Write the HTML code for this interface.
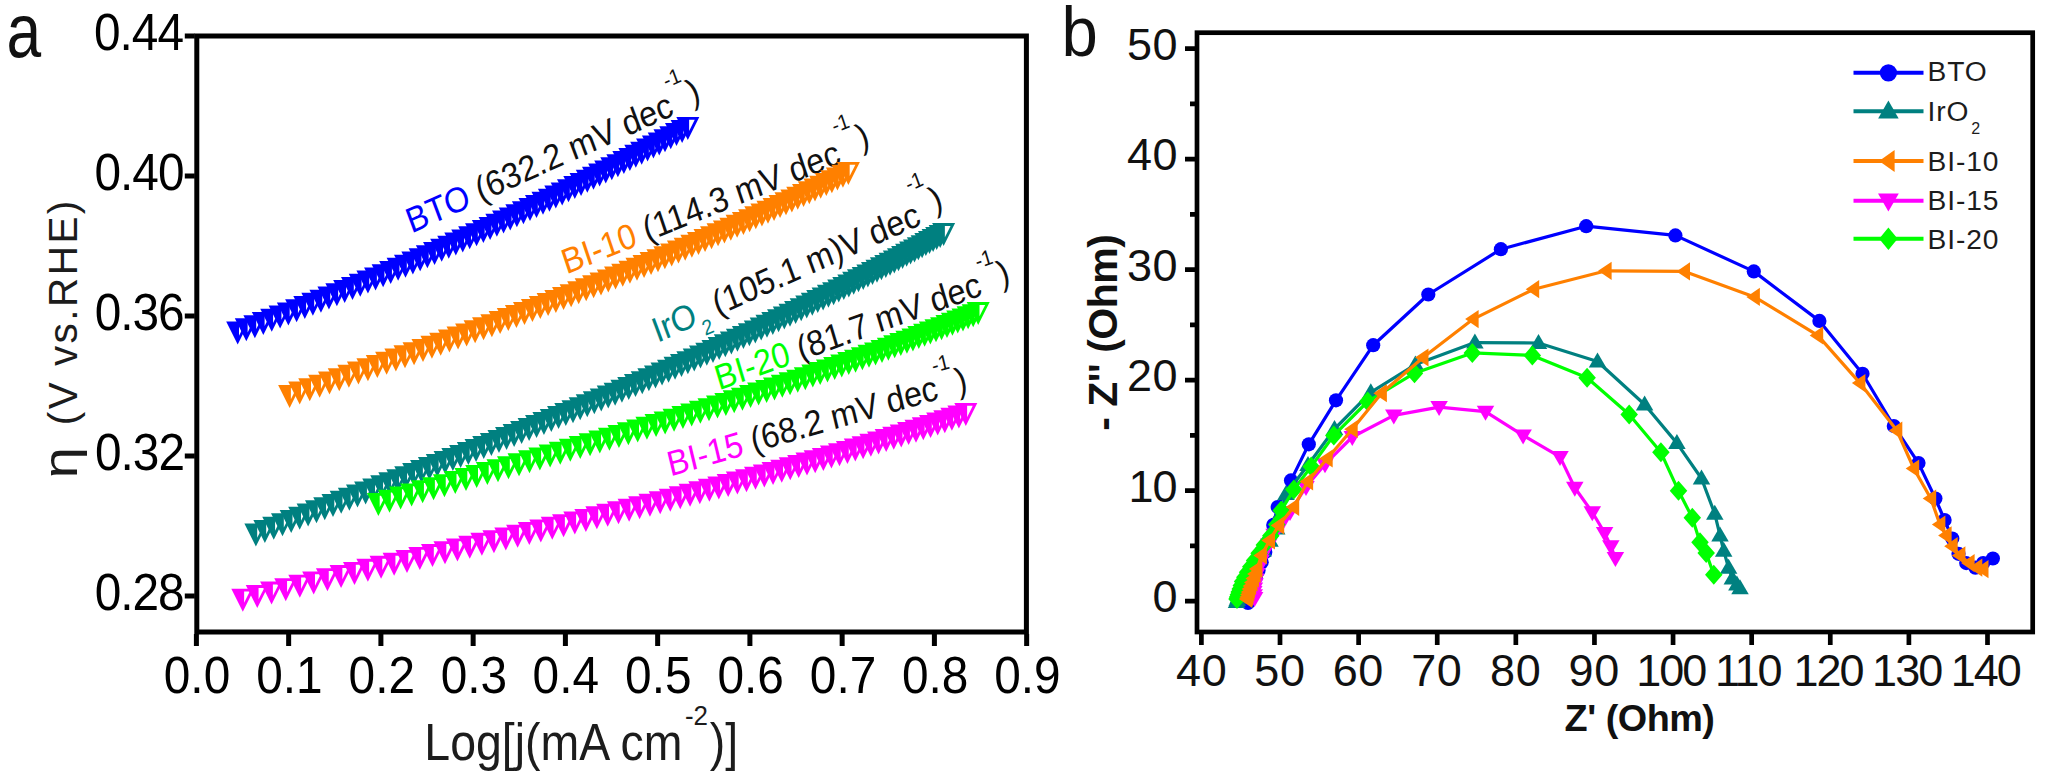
<!DOCTYPE html>
<html><head><meta charset="utf-8"><title>Figure</title>
<style>html,body{margin:0;padding:0;background:#fff}svg{display:block}</style></head>
<body><svg width="2049" height="780" viewBox="0 0 2049 780">
<rect width="2049" height="780" fill="#fff"/>
<g id="left">
<rect x="196.8" y="36" width="829.6" height="596" fill="#fff" stroke="#000" stroke-width="5"/>
<path d="M196.4 634v12M288.65 634v12M380.9 634v12M473.15 634v12M565.4 634v12M657.65 634v12M749.9 634v12M842.15 634v12M934.4 634v12M1026.65 634v12M194.8 596h-10M194.8 456h-10M194.8 316h-10M194.8 176h-10M194.8 36h-10" stroke="#000" stroke-width="5" fill="none"/>
<g font-family="Liberation Sans, Arial, sans-serif">
<text transform="translate(163.79,692.8) scale(0.91,1)" font-size="52.5" fill="#000">0.0</text>
<text transform="translate(256.28,692.8) scale(0.91,1)" font-size="52.5" fill="#000">0.1</text>
<text transform="translate(348.56,692.8) scale(0.91,1)" font-size="52.5" fill="#000">0.2</text>
<text transform="translate(440.66,692.8) scale(0.91,1)" font-size="52.5" fill="#000">0.3</text>
<text transform="translate(532.56,692.8) scale(0.91,1)" font-size="52.5" fill="#000">0.4</text>
<text transform="translate(625.11,692.8) scale(0.91,1)" font-size="52.5" fill="#000">0.5</text>
<text transform="translate(717.41,692.8) scale(0.91,1)" font-size="52.5" fill="#000">0.6</text>
<text transform="translate(809.81,692.8) scale(0.91,1)" font-size="52.5" fill="#000">0.7</text>
<text transform="translate(901.9,692.8) scale(0.91,1)" font-size="52.5" fill="#000">0.8</text>
<text transform="translate(994.24,692.8) scale(0.91,1)" font-size="52.5" fill="#000">0.9</text>
<text transform="translate(94.7,610.3) scale(0.91,1)" font-size="52.5" letter-spacing="-1.1" fill="#000">0.28</text>
<text transform="translate(95.02,470.3) scale(0.91,1)" font-size="52.5" letter-spacing="-1.1" fill="#000">0.32</text>
<text transform="translate(94.72,330.3) scale(0.91,1)" font-size="52.5" letter-spacing="-1.1" fill="#000">0.36</text>
<text transform="translate(94.49,190.3) scale(0.91,1)" font-size="52.5" letter-spacing="-1.1" fill="#000">0.40</text>
<text transform="translate(94.02,50.3) scale(0.91,1)" font-size="52.5" letter-spacing="-1.1" fill="#000">0.44</text>
</g>
</g>
<text transform="translate(411.5,233.5) scale(0.91,1) rotate(-22.3)" font-size="35.5" fill="#111" font-family="Liberation Sans, Arial, sans-serif"><tspan fill="#0000ff">BTO</tspan><tspan> (632.2 mV dec</tspan><tspan font-size="21.66" dx="1" dy="-28">-1</tspan><tspan dx="1" dy="26">)</tspan></text>
<text transform="translate(566.5,274.5) scale(0.91,1) rotate(-20.2)" font-size="35.5" fill="#111" font-family="Liberation Sans, Arial, sans-serif"><tspan fill="#ff8000">BI-10</tspan><tspan> (114.3 mV dec</tspan><tspan font-size="21.66" dx="2" dy="-30.6">-1</tspan><tspan dx="3" dy="25.1">)</tspan></text>
<text transform="translate(657.5,343) scale(0.91,1) rotate(-22.2)" font-size="35.5" fill="#111" font-family="Liberation Sans, Arial, sans-serif"><tspan fill="#008080">IrO</tspan><tspan fill="#008080" font-size="21.3" dy="13.49" dx="2">2</tspan><tspan dy="-13.49" dx="8.5">(105.1 m)V dec</tspan><tspan font-size="21.66" dx="-2" dy="-35.6">-1</tspan><tspan dx="0" dy="29.6">)</tspan></text>
<text transform="translate(719,390.5) scale(0.91,1) rotate(-18.2)" font-size="35.5" fill="#111" font-family="Liberation Sans, Arial, sans-serif"><tspan fill="#00ff00">BI-20</tspan><tspan> (81.7 mV dec</tspan><tspan font-size="21.66" dx="2" dy="-26.62">-1</tspan><tspan dx="0.5" dy="24.62">)</tspan></text>
<text transform="translate(670.5,476.5) scale(0.91,1) rotate(-14.7)" font-size="35.5" fill="#111" font-family="Liberation Sans, Arial, sans-serif"><tspan fill="#ff00ff">BI-15</tspan><tspan> (68.2 mV dec</tspan><tspan font-size="21.66" dx="0" dy="-26.62">-1</tspan><tspan dx="2" dy="26.62">)</tspan></text>
<g id="bto"><path d="M226.2 321.5h23l-11.5 23z" fill="#0000ff"/><path d="M239 324.3H244.67L239 335.64z" fill="#fff"/><path d="M234.81 318.32h23l-11.5 23z" fill="#0000ff"/><path d="M247.61 321.12H253.28L247.61 332.46z" fill="#fff"/><path d="M243.36 315.14h23l-11.5 23z" fill="#0000ff"/><path d="M256.16 317.94H261.82L256.16 329.28z" fill="#fff"/><path d="M251.84 311.96h23l-11.5 23z" fill="#0000ff"/><path d="M264.64 314.76H270.31L264.64 326.1z" fill="#fff"/><path d="M260.25 308.78h23l-11.5 23z" fill="#0000ff"/><path d="M273.05 311.58H278.72L273.05 322.92z" fill="#fff"/><path d="M268.61 305.6h23l-11.5 23z" fill="#0000ff"/><path d="M281.41 308.4H287.08L281.41 319.74z" fill="#fff"/><path d="M276.9 302.41h23l-11.5 23z" fill="#0000ff"/><path d="M289.7 305.21H295.37L289.7 316.55z" fill="#fff"/><path d="M285.13 299.23h23l-11.5 23z" fill="#0000ff"/><path d="M297.93 302.03H303.6L297.93 313.37z" fill="#fff"/><path d="M293.29 296.04h23l-11.5 23z" fill="#0000ff"/><path d="M306.09 298.84H311.76L306.09 310.18z" fill="#fff"/><path d="M301.4 292.85h23l-11.5 23z" fill="#0000ff"/><path d="M314.2 295.65H319.87L314.2 306.99z" fill="#fff"/><path d="M309.44 289.67h23l-11.5 23z" fill="#0000ff"/><path d="M322.24 292.47H327.91L322.24 303.81z" fill="#fff"/><path d="M317.42 286.48h23l-11.5 23z" fill="#0000ff"/><path d="M330.22 289.28H335.89L330.22 300.62z" fill="#fff"/><path d="M325.35 283.29h23l-11.5 23z" fill="#0000ff"/><path d="M338.15 286.09H343.82L338.15 297.43z" fill="#fff"/><path d="M333.21 280.11h23l-11.5 23z" fill="#0000ff"/><path d="M346.01 282.91H351.68L346.01 294.25z" fill="#fff"/><path d="M341.01 276.92h23l-11.5 23z" fill="#0000ff"/><path d="M353.81 279.72H359.48L353.81 291.06z" fill="#fff"/><path d="M348.76 273.74h23l-11.5 23z" fill="#0000ff"/><path d="M361.56 276.54H367.23L361.56 287.88z" fill="#fff"/><path d="M356.45 270.56h23l-11.5 23z" fill="#0000ff"/><path d="M369.25 273.36H374.92L369.25 284.7z" fill="#fff"/><path d="M364.08 267.38h23l-11.5 23z" fill="#0000ff"/><path d="M376.88 270.18H382.55L376.88 281.52z" fill="#fff"/><path d="M371.65 264.2h23l-11.5 23z" fill="#0000ff"/><path d="M384.45 267H390.12L384.45 278.34z" fill="#fff"/><path d="M379.16 261.02h23l-11.5 23z" fill="#0000ff"/><path d="M391.96 263.82H397.63L391.96 275.16z" fill="#fff"/><path d="M386.62 257.85h23l-11.5 23z" fill="#0000ff"/><path d="M399.42 260.65H405.09L399.42 271.99z" fill="#fff"/><path d="M394.02 254.68h23l-11.5 23z" fill="#0000ff"/><path d="M406.82 257.48H412.49L406.82 268.82z" fill="#fff"/><path d="M401.37 251.51h23l-11.5 23z" fill="#0000ff"/><path d="M414.17 254.31H419.84L414.17 265.65z" fill="#fff"/><path d="M408.66 248.34h23l-11.5 23z" fill="#0000ff"/><path d="M421.46 251.14H427.13L421.46 262.48z" fill="#fff"/><path d="M415.9 245.18h23l-11.5 23z" fill="#0000ff"/><path d="M428.7 247.98H434.37L428.7 259.32z" fill="#fff"/><path d="M423.08 242.02h23l-11.5 23z" fill="#0000ff"/><path d="M435.88 244.82H441.55L435.88 256.16z" fill="#fff"/><path d="M430.2 238.86h23l-11.5 23z" fill="#0000ff"/><path d="M443 241.66H448.67L443 253z" fill="#fff"/><path d="M437.28 235.71h23l-11.5 23z" fill="#0000ff"/><path d="M450.08 238.51H455.75L450.08 249.85z" fill="#fff"/><path d="M444.3 232.56h23l-11.5 23z" fill="#0000ff"/><path d="M457.1 235.36H462.77L457.1 246.7z" fill="#fff"/><path d="M451.27 229.42h23l-11.5 23z" fill="#0000ff"/><path d="M464.07 232.22H469.74L464.07 243.56z" fill="#fff"/><path d="M458.18 226.28h23l-11.5 23z" fill="#0000ff"/><path d="M470.98 229.08H476.65L470.98 240.42z" fill="#fff"/><path d="M465.04 223.14h23l-11.5 23z" fill="#0000ff"/><path d="M477.84 225.94H483.51L477.84 237.28z" fill="#fff"/><path d="M471.86 220.01h23l-11.5 23z" fill="#0000ff"/><path d="M484.66 222.81H490.33L484.66 234.15z" fill="#fff"/><path d="M478.64 216.88h23l-11.5 23z" fill="#0000ff"/><path d="M491.44 219.68H497.11L491.44 231.02z" fill="#fff"/><path d="M485.38 213.74h23l-11.5 23z" fill="#0000ff"/><path d="M498.18 216.54H503.85L498.18 227.88z" fill="#fff"/><path d="M492.08 210.61h23l-11.5 23z" fill="#0000ff"/><path d="M504.88 213.41H510.55L504.88 224.75z" fill="#fff"/><path d="M498.74 207.47h23l-11.5 23z" fill="#0000ff"/><path d="M511.54 210.27H517.21L511.54 221.61z" fill="#fff"/><path d="M505.36 204.33h23l-11.5 23z" fill="#0000ff"/><path d="M518.16 207.13H523.83L518.16 218.47z" fill="#fff"/><path d="M511.95 201.2h23l-11.5 23z" fill="#0000ff"/><path d="M524.75 204H530.42L524.75 215.34z" fill="#fff"/><path d="M518.5 198.06h23l-11.5 23z" fill="#0000ff"/><path d="M531.3 200.86H536.97L531.3 212.2z" fill="#fff"/><path d="M525.01 194.92h23l-11.5 23z" fill="#0000ff"/><path d="M537.81 197.72H543.48L537.81 209.06z" fill="#fff"/><path d="M531.48 191.79h23l-11.5 23z" fill="#0000ff"/><path d="M544.28 194.59H549.95L544.28 205.93z" fill="#fff"/><path d="M537.92 188.65h23l-11.5 23z" fill="#0000ff"/><path d="M550.72 191.45H556.39L550.72 202.79z" fill="#fff"/><path d="M544.32 185.51h23l-11.5 23z" fill="#0000ff"/><path d="M557.12 188.31H562.79L557.12 199.65z" fill="#fff"/><path d="M550.69 182.38h23l-11.5 23z" fill="#0000ff"/><path d="M563.49 185.18H569.16L563.49 196.52z" fill="#fff"/><path d="M557.02 179.24h23l-11.5 23z" fill="#0000ff"/><path d="M569.82 182.04H575.49L569.82 193.38z" fill="#fff"/><path d="M563.31 176.11h23l-11.5 23z" fill="#0000ff"/><path d="M576.11 178.91H581.78L576.11 190.25z" fill="#fff"/><path d="M569.57 172.98h23l-11.5 23z" fill="#0000ff"/><path d="M582.37 175.78H588.04L582.37 187.12z" fill="#fff"/><path d="M575.79 169.85h23l-11.5 23z" fill="#0000ff"/><path d="M588.59 172.65H594.26L588.59 183.99z" fill="#fff"/><path d="M581.97 166.72h23l-11.5 23z" fill="#0000ff"/><path d="M594.77 169.52H600.44L594.77 180.86z" fill="#fff"/><path d="M588.13 163.59h23l-11.5 23z" fill="#0000ff"/><path d="M600.93 166.39H606.6L600.93 177.73z" fill="#fff"/><path d="M594.24 160.46h23l-11.5 23z" fill="#0000ff"/><path d="M607.04 163.26H612.71L607.04 174.6z" fill="#fff"/><path d="M600.32 157.33h23l-11.5 23z" fill="#0000ff"/><path d="M613.12 160.13H618.79L613.12 171.47z" fill="#fff"/><path d="M606.37 154.21h23l-11.5 23z" fill="#0000ff"/><path d="M619.17 157.01H624.84L619.17 168.35z" fill="#fff"/><path d="M612.38 151.09h23l-11.5 23z" fill="#0000ff"/><path d="M625.18 153.89H630.85L625.18 165.23z" fill="#fff"/><path d="M618.36 147.97h23l-11.5 23z" fill="#0000ff"/><path d="M631.16 150.77H636.83L631.16 162.11z" fill="#fff"/><path d="M624.3 144.85h23l-11.5 23z" fill="#0000ff"/><path d="M637.1 147.65H642.77L637.1 158.99z" fill="#fff"/><path d="M630.21 141.73h23l-11.5 23z" fill="#0000ff"/><path d="M643.01 144.53H648.68L643.01 155.87z" fill="#fff"/><path d="M636.09 138.62h23l-11.5 23z" fill="#0000ff"/><path d="M648.89 141.42H654.56L648.89 152.76z" fill="#fff"/><path d="M641.93 135.51h23l-11.5 23z" fill="#0000ff"/><path d="M654.73 138.31H660.4L654.73 149.65z" fill="#fff"/><path d="M647.74 132.4h23l-11.5 23z" fill="#0000ff"/><path d="M660.54 135.2H666.21L660.54 146.54z" fill="#fff"/><path d="M653.52 129.29h23l-11.5 23z" fill="#0000ff"/><path d="M666.32 132.09H671.99L666.32 143.43z" fill="#fff"/><path d="M659.26 126.19h23l-11.5 23z" fill="#0000ff"/><path d="M672.06 128.99H677.73L672.06 140.33z" fill="#fff"/><path d="M664.97 123.09h23l-11.5 23z" fill="#0000ff"/><path d="M677.77 125.89H683.44L677.77 137.23z" fill="#fff"/><path d="M670.65 119.99h23l-11.5 23z" fill="#0000ff"/><path d="M683.45 122.79H689.12L683.45 134.13z" fill="#fff"/><path d="M676.3 116.9h23l-11.5 23z" fill="#0000ff"/><path d="M689.1 119.7H694.77L689.1 131.04z" fill="#fff"/></g>
<g id="bi10"><path d="M278.1 385h23l-11.5 23z" fill="#ff8000"/><path d="M290.9 387.8H296.57L290.9 399.14z" fill="#fff"/><path d="M288.21 381.58h23l-11.5 23z" fill="#ff8000"/><path d="M301.01 384.38H306.68L301.01 395.72z" fill="#fff"/><path d="M298.23 378.19h23l-11.5 23z" fill="#ff8000"/><path d="M311.03 380.99H316.7L311.03 392.33z" fill="#fff"/><path d="M308.15 374.82h23l-11.5 23z" fill="#ff8000"/><path d="M320.95 377.62H326.62L320.95 388.96z" fill="#fff"/><path d="M317.99 371.47h23l-11.5 23z" fill="#ff8000"/><path d="M330.79 374.27H336.46L330.79 385.61z" fill="#fff"/><path d="M327.73 368.14h23l-11.5 23z" fill="#ff8000"/><path d="M340.53 370.94H346.2L340.53 382.28z" fill="#fff"/><path d="M337.39 364.83h23l-11.5 23z" fill="#ff8000"/><path d="M350.19 367.63H355.86L350.19 378.97z" fill="#fff"/><path d="M346.96 361.54h23l-11.5 23z" fill="#ff8000"/><path d="M359.76 364.34H365.43L359.76 375.68z" fill="#fff"/><path d="M356.44 358.27h23l-11.5 23z" fill="#ff8000"/><path d="M369.24 361.07H374.91L369.24 372.41z" fill="#fff"/><path d="M365.83 355.02h23l-11.5 23z" fill="#ff8000"/><path d="M378.63 357.82H384.3L378.63 369.16z" fill="#fff"/><path d="M375.14 351.78h23l-11.5 23z" fill="#ff8000"/><path d="M387.94 354.58H393.61L387.94 365.92z" fill="#fff"/><path d="M384.36 348.57h23l-11.5 23z" fill="#ff8000"/><path d="M397.16 351.37H402.83L397.16 362.71z" fill="#fff"/><path d="M393.49 345.37h23l-11.5 23z" fill="#ff8000"/><path d="M406.29 348.17H411.96L406.29 359.51z" fill="#fff"/><path d="M402.55 342.18h23l-11.5 23z" fill="#ff8000"/><path d="M415.35 344.98H421.02L415.35 356.32z" fill="#fff"/><path d="M411.52 339.01h23l-11.5 23z" fill="#ff8000"/><path d="M424.32 341.81H429.99L424.32 353.15z" fill="#fff"/><path d="M420.41 335.86h23l-11.5 23z" fill="#ff8000"/><path d="M433.21 338.66H438.88L433.21 350z" fill="#fff"/><path d="M429.21 332.72h23l-11.5 23z" fill="#ff8000"/><path d="M442.01 335.52H447.68L442.01 346.86z" fill="#fff"/><path d="M437.94 329.59h23l-11.5 23z" fill="#ff8000"/><path d="M450.74 332.39H456.41L450.74 343.73z" fill="#fff"/><path d="M446.59 326.48h23l-11.5 23z" fill="#ff8000"/><path d="M459.39 329.28H465.06L459.39 340.62z" fill="#fff"/><path d="M455.15 323.38h23l-11.5 23z" fill="#ff8000"/><path d="M467.95 326.18H473.62L467.95 337.52z" fill="#fff"/><path d="M463.64 320.29h23l-11.5 23z" fill="#ff8000"/><path d="M476.44 323.09H482.11L476.44 334.43z" fill="#fff"/><path d="M472.05 317.22h23l-11.5 23z" fill="#ff8000"/><path d="M484.85 320.02H490.52L484.85 331.36z" fill="#fff"/><path d="M480.39 314.16h23l-11.5 23z" fill="#ff8000"/><path d="M493.19 316.96H498.86L493.19 328.3z" fill="#fff"/><path d="M488.65 311.11h23l-11.5 23z" fill="#ff8000"/><path d="M501.45 313.91H507.12L501.45 325.25z" fill="#fff"/><path d="M496.83 308.07h23l-11.5 23z" fill="#ff8000"/><path d="M509.63 310.87H515.3L509.63 322.21z" fill="#fff"/><path d="M504.94 305.04h23l-11.5 23z" fill="#ff8000"/><path d="M517.74 307.84H523.41L517.74 319.18z" fill="#fff"/><path d="M512.97 302.03h23l-11.5 23z" fill="#ff8000"/><path d="M525.77 304.83H531.44L525.77 316.17z" fill="#fff"/><path d="M520.93 299.03h23l-11.5 23z" fill="#ff8000"/><path d="M533.73 301.83H539.4L533.73 313.17z" fill="#fff"/><path d="M528.81 296.03h23l-11.5 23z" fill="#ff8000"/><path d="M541.61 298.83H547.28L541.61 310.17z" fill="#fff"/><path d="M536.63 293.05h23l-11.5 23z" fill="#ff8000"/><path d="M549.43 295.85H555.1L549.43 307.19z" fill="#fff"/><path d="M544.37 290.08h23l-11.5 23z" fill="#ff8000"/><path d="M557.17 292.88H562.84L557.17 304.22z" fill="#fff"/><path d="M552.04 287.12h23l-11.5 23z" fill="#ff8000"/><path d="M564.84 289.92H570.51L564.84 301.26z" fill="#fff"/><path d="M559.65 284.17h23l-11.5 23z" fill="#ff8000"/><path d="M572.45 286.97H578.12L572.45 298.31z" fill="#fff"/><path d="M567.2 281.22h23l-11.5 23z" fill="#ff8000"/><path d="M580 284.02H585.67L580 295.36z" fill="#fff"/><path d="M574.69 278.28h23l-11.5 23z" fill="#ff8000"/><path d="M587.49 281.08H593.16L587.49 292.42z" fill="#fff"/><path d="M582.12 275.34h23l-11.5 23z" fill="#ff8000"/><path d="M594.92 278.14H600.59L594.92 289.48z" fill="#fff"/><path d="M589.5 272.41h23l-11.5 23z" fill="#ff8000"/><path d="M602.3 275.21H607.97L602.3 286.55z" fill="#fff"/><path d="M596.81 269.49h23l-11.5 23z" fill="#ff8000"/><path d="M609.61 272.29H615.28L609.61 283.62z" fill="#fff"/><path d="M604.08 266.56h23l-11.5 23z" fill="#ff8000"/><path d="M616.88 269.36H622.55L616.88 280.7z" fill="#fff"/><path d="M611.28 263.65h23l-11.5 23z" fill="#ff8000"/><path d="M624.08 266.45H629.75L624.08 277.79z" fill="#fff"/><path d="M618.43 260.74h23l-11.5 23z" fill="#ff8000"/><path d="M631.23 263.54H636.9L631.23 274.88z" fill="#fff"/><path d="M625.53 257.83h23l-11.5 23z" fill="#ff8000"/><path d="M638.33 260.63H644L638.33 271.97z" fill="#fff"/><path d="M632.57 254.93h23l-11.5 23z" fill="#ff8000"/><path d="M645.37 257.73H651.04L645.37 269.07z" fill="#fff"/><path d="M639.56 252.04h23l-11.5 23z" fill="#ff8000"/><path d="M652.36 254.84H658.03L652.36 266.18z" fill="#fff"/><path d="M646.49 249.15h23l-11.5 23z" fill="#ff8000"/><path d="M659.29 251.95H664.96L659.29 263.28z" fill="#fff"/><path d="M653.37 246.26h23l-11.5 23z" fill="#ff8000"/><path d="M666.17 249.06H671.84L666.17 260.4z" fill="#fff"/><path d="M660.2 243.38h23l-11.5 23z" fill="#ff8000"/><path d="M673 246.18H678.67L673 257.52z" fill="#fff"/><path d="M666.97 240.5h23l-11.5 23z" fill="#ff8000"/><path d="M679.77 243.3H685.44L679.77 254.64z" fill="#fff"/><path d="M673.7 237.63h23l-11.5 23z" fill="#ff8000"/><path d="M686.5 240.43H692.17L686.5 251.77z" fill="#fff"/><path d="M680.37 234.76h23l-11.5 23z" fill="#ff8000"/><path d="M693.17 237.56H698.84L693.17 248.9z" fill="#fff"/><path d="M686.99 231.9h23l-11.5 23z" fill="#ff8000"/><path d="M699.79 234.7H705.46L699.79 246.04z" fill="#fff"/><path d="M693.56 229.04h23l-11.5 23z" fill="#ff8000"/><path d="M706.36 231.84H712.02L706.36 243.18z" fill="#fff"/><path d="M700.07 226.19h23l-11.5 23z" fill="#ff8000"/><path d="M712.87 228.99H718.54L712.87 240.33z" fill="#fff"/><path d="M706.54 223.34h23l-11.5 23z" fill="#ff8000"/><path d="M719.34 226.14H725.01L719.34 237.48z" fill="#fff"/><path d="M712.96 220.49h23l-11.5 23z" fill="#ff8000"/><path d="M725.76 223.29H731.43L725.76 234.63z" fill="#fff"/><path d="M719.33 217.65h23l-11.5 23z" fill="#ff8000"/><path d="M732.13 220.45H737.8L732.13 231.79z" fill="#fff"/><path d="M725.65 214.82h23l-11.5 23z" fill="#ff8000"/><path d="M738.45 217.62H744.12L738.45 228.96z" fill="#fff"/><path d="M731.92 211.99h23l-11.5 23z" fill="#ff8000"/><path d="M744.72 214.79H750.39L744.72 226.13z" fill="#fff"/><path d="M738.14 209.16h23l-11.5 23z" fill="#ff8000"/><path d="M750.94 211.96H756.61L750.94 223.3z" fill="#fff"/><path d="M744.32 206.34h23l-11.5 23z" fill="#ff8000"/><path d="M757.12 209.14H762.79L757.12 220.48z" fill="#fff"/><path d="M750.44 203.53h23l-11.5 23z" fill="#ff8000"/><path d="M763.24 206.33H768.91L763.24 217.67z" fill="#fff"/><path d="M756.52 200.72h23l-11.5 23z" fill="#ff8000"/><path d="M769.32 203.52H774.99L769.32 214.86z" fill="#fff"/><path d="M762.56 197.91h23l-11.5 23z" fill="#ff8000"/><path d="M775.36 200.71H781.03L775.36 212.05z" fill="#fff"/><path d="M768.55 195.11h23l-11.5 23z" fill="#ff8000"/><path d="M781.35 197.91H787.02L781.35 209.25z" fill="#fff"/><path d="M774.49 192.31h23l-11.5 23z" fill="#ff8000"/><path d="M787.29 195.11H792.96L787.29 206.45z" fill="#fff"/><path d="M780.38 189.52h23l-11.5 23z" fill="#ff8000"/><path d="M793.18 192.32H798.85L793.18 203.66z" fill="#fff"/><path d="M786.23 186.74h23l-11.5 23z" fill="#ff8000"/><path d="M799.03 189.54H804.7L799.03 200.87z" fill="#fff"/><path d="M792.04 183.95h23l-11.5 23z" fill="#ff8000"/><path d="M804.84 186.75H810.51L804.84 198.09z" fill="#fff"/><path d="M797.8 181.18h23l-11.5 23z" fill="#ff8000"/><path d="M810.6 183.98H816.27L810.6 195.32z" fill="#fff"/><path d="M803.51 178.41h23l-11.5 23z" fill="#ff8000"/><path d="M816.31 181.21H821.98L816.31 192.55z" fill="#fff"/><path d="M809.19 175.64h23l-11.5 23z" fill="#ff8000"/><path d="M821.99 178.44H827.66L821.99 189.78z" fill="#fff"/><path d="M814.82 172.88h23l-11.5 23z" fill="#ff8000"/><path d="M827.62 175.68H833.28L827.62 187.02z" fill="#fff"/><path d="M820.4 170.13h23l-11.5 23z" fill="#ff8000"/><path d="M833.2 172.93H838.87L833.2 184.27z" fill="#fff"/><path d="M825.94 167.38h23l-11.5 23z" fill="#ff8000"/><path d="M838.74 170.18H844.41L838.74 181.52z" fill="#fff"/><path d="M831.44 164.64h23l-11.5 23z" fill="#ff8000"/><path d="M844.24 167.44H849.91L844.24 178.78z" fill="#fff"/><path d="M836.9 161.9h23l-11.5 23z" fill="#ff8000"/><path d="M849.7 164.7H855.37L849.7 176.04z" fill="#fff"/></g>
<g id="iro2"><path d="M244.4 523.5h23l-11.5 23z" fill="#008080"/><path d="M257.2 526.3H262.87L257.2 537.64z" fill="#fff"/><path d="M253.38 520.04h23l-11.5 23z" fill="#008080"/><path d="M266.18 522.84H271.85L266.18 534.18z" fill="#fff"/><path d="M262.26 516.64h23l-11.5 23z" fill="#008080"/><path d="M275.06 519.44H280.73L275.06 530.78z" fill="#fff"/><path d="M271.02 513.28h23l-11.5 23z" fill="#008080"/><path d="M283.82 516.08H289.49L283.82 527.42z" fill="#fff"/><path d="M279.67 509.96h23l-11.5 23z" fill="#008080"/><path d="M292.47 512.76H298.14L292.47 524.1z" fill="#fff"/><path d="M288.21 506.7h23l-11.5 23z" fill="#008080"/><path d="M301.01 509.5H306.68L301.01 520.84z" fill="#fff"/><path d="M296.65 503.47h23l-11.5 23z" fill="#008080"/><path d="M309.45 506.27H315.12L309.45 517.61z" fill="#fff"/><path d="M304.98 500.29h23l-11.5 23z" fill="#008080"/><path d="M317.78 503.09H323.45L317.78 514.43z" fill="#fff"/><path d="M313.25 497.13h23l-11.5 23z" fill="#008080"/><path d="M326.05 499.93H331.72L326.05 511.27z" fill="#fff"/><path d="M321.49 493.99h23l-11.5 23z" fill="#008080"/><path d="M334.29 496.79H339.96L334.29 508.12z" fill="#fff"/><path d="M329.7 490.85h23l-11.5 23z" fill="#008080"/><path d="M342.5 493.65H348.17L342.5 504.99z" fill="#fff"/><path d="M337.87 487.73h23l-11.5 23z" fill="#008080"/><path d="M350.67 490.53H356.34L350.67 501.87z" fill="#fff"/><path d="M346.02 484.62h23l-11.5 23z" fill="#008080"/><path d="M358.82 487.42H364.49L358.82 498.76z" fill="#fff"/><path d="M354.14 481.52h23l-11.5 23z" fill="#008080"/><path d="M366.94 484.32H372.61L366.94 495.66z" fill="#fff"/><path d="M362.22 478.43h23l-11.5 23z" fill="#008080"/><path d="M375.02 481.23H380.69L375.02 492.57z" fill="#fff"/><path d="M370.27 475.35h23l-11.5 23z" fill="#008080"/><path d="M383.07 478.15H388.74L383.07 489.49z" fill="#fff"/><path d="M378.3 472.28h23l-11.5 23z" fill="#008080"/><path d="M391.1 475.08H396.77L391.1 486.42z" fill="#fff"/><path d="M386.29 469.21h23l-11.5 23z" fill="#008080"/><path d="M399.09 472.01H404.76L399.09 483.35z" fill="#fff"/><path d="M394.25 466.16h23l-11.5 23z" fill="#008080"/><path d="M407.05 468.96H412.72L407.05 480.3z" fill="#fff"/><path d="M402.19 463.11h23l-11.5 23z" fill="#008080"/><path d="M414.99 465.91H420.65L414.99 477.25z" fill="#fff"/><path d="M410.09 460.07h23l-11.5 23z" fill="#008080"/><path d="M422.89 462.87H428.56L422.89 474.2z" fill="#fff"/><path d="M417.96 457.03h23l-11.5 23z" fill="#008080"/><path d="M430.76 459.83H436.43L430.76 471.17z" fill="#fff"/><path d="M425.8 454h23l-11.5 23z" fill="#008080"/><path d="M438.6 456.8H444.27L438.6 468.14z" fill="#fff"/><path d="M433.62 450.97h23l-11.5 23z" fill="#008080"/><path d="M446.42 453.77H452.08L446.42 465.11z" fill="#fff"/><path d="M441.4 447.95h23l-11.5 23z" fill="#008080"/><path d="M454.2 450.75H459.87L454.2 462.09z" fill="#fff"/><path d="M449.15 444.94h23l-11.5 23z" fill="#008080"/><path d="M461.95 447.74H467.62L461.95 459.08z" fill="#fff"/><path d="M456.88 441.92h23l-11.5 23z" fill="#008080"/><path d="M469.68 444.72H475.35L469.68 456.06z" fill="#fff"/><path d="M464.57 438.92h23l-11.5 23z" fill="#008080"/><path d="M477.37 441.72H483.04L477.37 453.05z" fill="#fff"/><path d="M472.24 435.91h23l-11.5 23z" fill="#008080"/><path d="M485.04 438.71H490.71L485.04 450.05z" fill="#fff"/><path d="M479.87 432.91h23l-11.5 23z" fill="#008080"/><path d="M492.67 435.71H498.34L492.67 447.05z" fill="#fff"/><path d="M487.48 429.91h23l-11.5 23z" fill="#008080"/><path d="M500.28 432.71H505.95L500.28 444.05z" fill="#fff"/><path d="M495.06 426.91h23l-11.5 23z" fill="#008080"/><path d="M507.86 429.71H513.53L507.86 441.05z" fill="#fff"/><path d="M502.61 423.91h23l-11.5 23z" fill="#008080"/><path d="M515.41 426.71H521.08L515.41 438.05z" fill="#fff"/><path d="M510.13 420.91h23l-11.5 23z" fill="#008080"/><path d="M522.93 423.71H528.6L522.93 435.05z" fill="#fff"/><path d="M517.62 417.92h23l-11.5 23z" fill="#008080"/><path d="M530.42 420.72H536.09L530.42 432.06z" fill="#fff"/><path d="M525.07 414.93h23l-11.5 23z" fill="#008080"/><path d="M537.87 417.73H543.54L537.87 429.07z" fill="#fff"/><path d="M532.46 411.96h23l-11.5 23z" fill="#008080"/><path d="M545.26 414.76H550.93L545.26 426.1z" fill="#fff"/><path d="M539.8 408.99h23l-11.5 23z" fill="#008080"/><path d="M552.6 411.79H558.27L552.6 423.13z" fill="#fff"/><path d="M547.09 406.03h23l-11.5 23z" fill="#008080"/><path d="M559.89 408.83H565.56L559.89 420.17z" fill="#fff"/><path d="M554.33 403.08h23l-11.5 23z" fill="#008080"/><path d="M567.13 405.88H572.8L567.13 417.22z" fill="#fff"/><path d="M561.52 400.14h23l-11.5 23z" fill="#008080"/><path d="M574.32 402.94H579.99L574.32 414.28z" fill="#fff"/><path d="M568.66 397.21h23l-11.5 23z" fill="#008080"/><path d="M581.46 400.01H587.12L581.46 411.35z" fill="#fff"/><path d="M575.75 394.28h23l-11.5 23z" fill="#008080"/><path d="M588.55 397.08H594.21L588.55 408.42z" fill="#fff"/><path d="M582.79 391.36h23l-11.5 23z" fill="#008080"/><path d="M595.59 394.16H601.26L595.59 405.5z" fill="#fff"/><path d="M589.78 388.45h23l-11.5 23z" fill="#008080"/><path d="M602.58 391.25H608.25L602.58 402.59z" fill="#fff"/><path d="M596.72 385.55h23l-11.5 23z" fill="#008080"/><path d="M609.52 388.35H615.19L609.52 399.69z" fill="#fff"/><path d="M603.62 382.65h23l-11.5 23z" fill="#008080"/><path d="M616.42 385.45H622.09L616.42 396.79z" fill="#fff"/><path d="M610.46 379.76h23l-11.5 23z" fill="#008080"/><path d="M623.26 382.56H628.93L623.26 393.9z" fill="#fff"/><path d="M617.26 376.88h23l-11.5 23z" fill="#008080"/><path d="M630.06 379.68H635.73L630.06 391.02z" fill="#fff"/><path d="M624.02 374h23l-11.5 23z" fill="#008080"/><path d="M636.82 376.8H642.49L636.82 388.14z" fill="#fff"/><path d="M630.72 371.13h23l-11.5 23z" fill="#008080"/><path d="M643.52 373.93H649.19L643.52 385.27z" fill="#fff"/><path d="M637.38 368.27h23l-11.5 23z" fill="#008080"/><path d="M650.18 371.07H655.85L650.18 382.41z" fill="#fff"/><path d="M644 365.41h23l-11.5 23z" fill="#008080"/><path d="M656.8 368.21H662.47L656.8 379.55z" fill="#fff"/><path d="M650.57 362.56h23l-11.5 23z" fill="#008080"/><path d="M663.37 365.36H669.04L663.37 376.7z" fill="#fff"/><path d="M657.09 359.71h23l-11.5 23z" fill="#008080"/><path d="M669.89 362.51H675.56L669.89 373.85z" fill="#fff"/><path d="M663.57 356.87h23l-11.5 23z" fill="#008080"/><path d="M676.37 359.67H682.04L676.37 371.01z" fill="#fff"/><path d="M670 354.03h23l-11.5 23z" fill="#008080"/><path d="M682.8 356.83H688.47L682.8 368.17z" fill="#fff"/><path d="M676.39 351.2h23l-11.5 23z" fill="#008080"/><path d="M689.19 354H694.86L689.19 365.34z" fill="#fff"/><path d="M682.73 348.38h23l-11.5 23z" fill="#008080"/><path d="M695.53 351.18H701.2L695.53 362.51z" fill="#fff"/><path d="M689.03 345.56h23l-11.5 23z" fill="#008080"/><path d="M701.83 348.36H707.5L701.83 359.69z" fill="#fff"/><path d="M695.29 342.74h23l-11.5 23z" fill="#008080"/><path d="M708.09 345.54H713.76L708.09 356.88z" fill="#fff"/><path d="M701.5 339.93h23l-11.5 23z" fill="#008080"/><path d="M714.3 342.73H719.97L714.3 354.07z" fill="#fff"/><path d="M707.67 337.12h23l-11.5 23z" fill="#008080"/><path d="M720.47 339.92H726.14L720.47 351.26z" fill="#fff"/><path d="M713.8 334.32h23l-11.5 23z" fill="#008080"/><path d="M726.6 337.12H732.27L726.6 348.46z" fill="#fff"/><path d="M719.89 331.53h23l-11.5 23z" fill="#008080"/><path d="M732.69 334.33H738.36L732.69 345.66z" fill="#fff"/><path d="M725.93 328.73h23l-11.5 23z" fill="#008080"/><path d="M738.73 331.53H744.4L738.73 342.87z" fill="#fff"/><path d="M731.93 325.95h23l-11.5 23z" fill="#008080"/><path d="M744.73 328.75H750.4L744.73 340.09z" fill="#fff"/><path d="M737.89 323.16h23l-11.5 23z" fill="#008080"/><path d="M750.69 325.96H756.36L750.69 337.3z" fill="#fff"/><path d="M743.81 320.39h23l-11.5 23z" fill="#008080"/><path d="M756.61 323.19H762.28L756.61 334.52z" fill="#fff"/><path d="M749.69 317.61h23l-11.5 23z" fill="#008080"/><path d="M762.49 320.41H768.16L762.49 331.75z" fill="#fff"/><path d="M755.52 314.84h23l-11.5 23z" fill="#008080"/><path d="M768.32 317.64H773.99L768.32 328.98z" fill="#fff"/><path d="M761.32 312.08h23l-11.5 23z" fill="#008080"/><path d="M774.12 314.88H779.79L774.12 326.22z" fill="#fff"/><path d="M767.08 309.32h23l-11.5 23z" fill="#008080"/><path d="M779.88 312.12H785.55L779.88 323.46z" fill="#fff"/><path d="M772.79 306.56h23l-11.5 23z" fill="#008080"/><path d="M785.59 309.36H791.26L785.59 320.7z" fill="#fff"/><path d="M778.47 303.81h23l-11.5 23z" fill="#008080"/><path d="M791.27 306.61H796.94L791.27 317.95z" fill="#fff"/><path d="M784.11 301.06h23l-11.5 23z" fill="#008080"/><path d="M796.91 303.86H802.58L796.91 315.2z" fill="#fff"/><path d="M789.71 298.32h23l-11.5 23z" fill="#008080"/><path d="M802.51 301.12H808.18L802.51 312.46z" fill="#fff"/><path d="M795.27 295.58h23l-11.5 23z" fill="#008080"/><path d="M808.07 298.38H813.74L808.07 309.72z" fill="#fff"/><path d="M800.79 292.85h23l-11.5 23z" fill="#008080"/><path d="M813.59 295.65H819.26L813.59 306.99z" fill="#fff"/><path d="M806.26 290.12h23l-11.5 23z" fill="#008080"/><path d="M819.06 292.92H824.73L819.06 304.26z" fill="#fff"/><path d="M811.64 287.43h23l-11.5 23z" fill="#008080"/><path d="M824.44 290.23H830.11L824.44 301.57z" fill="#fff"/><path d="M816.94 284.76h23l-11.5 23z" fill="#008080"/><path d="M829.74 287.56H835.41L829.74 298.9z" fill="#fff"/><path d="M822.15 282.13h23l-11.5 23z" fill="#008080"/><path d="M834.95 284.93H840.62L834.95 296.27z" fill="#fff"/><path d="M827.28 279.52h23l-11.5 23z" fill="#008080"/><path d="M840.08 282.32H845.75L840.08 293.66z" fill="#fff"/><path d="M832.33 276.94h23l-11.5 23z" fill="#008080"/><path d="M845.13 279.74H850.8L845.13 291.08z" fill="#fff"/><path d="M837.3 274.39h23l-11.5 23z" fill="#008080"/><path d="M850.1 277.19H855.77L850.1 288.53z" fill="#fff"/><path d="M842.19 271.87h23l-11.5 23z" fill="#008080"/><path d="M854.99 274.67H860.66L854.99 286z" fill="#fff"/><path d="M847 269.37h23l-11.5 23z" fill="#008080"/><path d="M859.8 272.17H865.47L859.8 283.51z" fill="#fff"/><path d="M851.73 266.9h23l-11.5 23z" fill="#008080"/><path d="M864.53 269.7H870.2L864.53 281.04z" fill="#fff"/><path d="M856.39 264.46h23l-11.5 23z" fill="#008080"/><path d="M869.19 267.26H874.86L869.19 278.6z" fill="#fff"/><path d="M860.98 262.05h23l-11.5 23z" fill="#008080"/><path d="M873.78 264.85H879.45L873.78 276.19z" fill="#fff"/><path d="M865.49 259.66h23l-11.5 23z" fill="#008080"/><path d="M878.29 262.46H883.96L878.29 273.8z" fill="#fff"/><path d="M869.93 257.31h23l-11.5 23z" fill="#008080"/><path d="M882.73 260.11H888.4L882.73 271.44z" fill="#fff"/><path d="M874.3 254.97h23l-11.5 23z" fill="#008080"/><path d="M887.1 257.77H892.77L887.1 269.11z" fill="#fff"/><path d="M878.6 252.67h23l-11.5 23z" fill="#008080"/><path d="M891.4 255.47H897.07L891.4 266.81z" fill="#fff"/><path d="M882.84 250.39h23l-11.5 23z" fill="#008080"/><path d="M895.64 253.19H901.31L895.64 264.53z" fill="#fff"/><path d="M887 248.14h23l-11.5 23z" fill="#008080"/><path d="M899.8 250.94H905.47L899.8 262.28z" fill="#fff"/><path d="M891.1 245.91h23l-11.5 23z" fill="#008080"/><path d="M903.9 248.71H909.57L903.9 260.05z" fill="#fff"/><path d="M895.13 243.71h23l-11.5 23z" fill="#008080"/><path d="M907.93 246.51H913.6L907.93 257.85z" fill="#fff"/><path d="M899.1 241.54h23l-11.5 23z" fill="#008080"/><path d="M911.9 244.34H917.57L911.9 255.68z" fill="#fff"/><path d="M903.01 239.39h23l-11.5 23z" fill="#008080"/><path d="M915.81 242.19H921.48L915.81 253.53z" fill="#fff"/><path d="M906.85 237.27h23l-11.5 23z" fill="#008080"/><path d="M919.65 240.07H925.32L919.65 251.4z" fill="#fff"/><path d="M910.63 235.17h23l-11.5 23z" fill="#008080"/><path d="M923.43 237.97H929.1L923.43 249.31z" fill="#fff"/><path d="M914.36 233.09h23l-11.5 23z" fill="#008080"/><path d="M927.16 235.89H932.83L927.16 247.23z" fill="#fff"/><path d="M918.02 231.05h23l-11.5 23z" fill="#008080"/><path d="M930.82 233.85H936.49L930.82 245.19z" fill="#fff"/><path d="M921.63 229.02h23l-11.5 23z" fill="#008080"/><path d="M934.43 231.82H940.09L934.43 243.16z" fill="#fff"/><path d="M925.17 227.02h23l-11.5 23z" fill="#008080"/><path d="M937.97 229.82H943.64L937.97 241.16z" fill="#fff"/><path d="M928.66 225.05h23l-11.5 23z" fill="#008080"/><path d="M941.46 227.85H947.13L941.46 239.19z" fill="#fff"/><path d="M932.1 223.1h23l-11.5 23z" fill="#008080"/><path d="M944.9 225.9H950.57L944.9 237.24z" fill="#fff"/></g>
<g id="bi20"><path d="M366.9 492.9h23l-11.5 23z" fill="#00ff00"/><path d="M379.7 495.7H385.37L379.7 507.04z" fill="#fff"/><path d="M378.04 489.7h23l-11.5 23z" fill="#00ff00"/><path d="M390.84 492.5H396.51L390.84 503.84z" fill="#fff"/><path d="M389.12 486.54h23l-11.5 23z" fill="#00ff00"/><path d="M401.92 489.34H407.59L401.92 500.68z" fill="#fff"/><path d="M400.15 483.4h23l-11.5 23z" fill="#00ff00"/><path d="M412.95 486.2H418.62L412.95 497.54z" fill="#fff"/><path d="M411.12 480.29h23l-11.5 23z" fill="#00ff00"/><path d="M423.92 483.09H429.59L423.92 494.43z" fill="#fff"/><path d="M422.05 477.21h23l-11.5 23z" fill="#00ff00"/><path d="M434.85 480.01H440.52L434.85 491.35z" fill="#fff"/><path d="M432.92 474.15h23l-11.5 23z" fill="#00ff00"/><path d="M445.72 476.95H451.39L445.72 488.29z" fill="#fff"/><path d="M443.73 471.11h23l-11.5 23z" fill="#00ff00"/><path d="M456.53 473.91H462.2L456.53 485.25z" fill="#fff"/><path d="M454.5 468.09h23l-11.5 23z" fill="#00ff00"/><path d="M467.3 470.89H472.97L467.3 482.23z" fill="#fff"/><path d="M465.21 465.09h23l-11.5 23z" fill="#00ff00"/><path d="M478.01 467.89H483.68L478.01 479.23z" fill="#fff"/><path d="M475.87 462.11h23l-11.5 23z" fill="#00ff00"/><path d="M488.67 464.91H494.34L488.67 476.25z" fill="#fff"/><path d="M486.48 459.15h23l-11.5 23z" fill="#00ff00"/><path d="M499.28 461.95H504.94L499.28 473.28z" fill="#fff"/><path d="M497.03 456.19h23l-11.5 23z" fill="#00ff00"/><path d="M509.83 458.99H515.5L509.83 470.33z" fill="#fff"/><path d="M507.54 453.25h23l-11.5 23z" fill="#00ff00"/><path d="M520.34 456.05H526.01L520.34 467.39z" fill="#fff"/><path d="M517.99 450.32h23l-11.5 23z" fill="#00ff00"/><path d="M530.79 453.12H536.46L530.79 464.46z" fill="#fff"/><path d="M528.35 447.42h23l-11.5 23z" fill="#00ff00"/><path d="M541.15 450.22H546.82L541.15 461.56z" fill="#fff"/><path d="M538.6 444.53h23l-11.5 23z" fill="#00ff00"/><path d="M551.4 447.33H557.07L551.4 458.67z" fill="#fff"/><path d="M548.75 441.67h23l-11.5 23z" fill="#00ff00"/><path d="M561.55 444.47H567.22L561.55 455.81z" fill="#fff"/><path d="M558.79 438.83h23l-11.5 23z" fill="#00ff00"/><path d="M571.59 441.63H577.26L571.59 452.97z" fill="#fff"/><path d="M568.72 436.02h23l-11.5 23z" fill="#00ff00"/><path d="M581.52 438.82H587.19L581.52 450.16z" fill="#fff"/><path d="M578.56 433.22h23l-11.5 23z" fill="#00ff00"/><path d="M591.36 436.02H597.03L591.36 447.36z" fill="#fff"/><path d="M588.29 430.44h23l-11.5 23z" fill="#00ff00"/><path d="M601.09 433.24H606.76L601.09 444.58z" fill="#fff"/><path d="M597.92 427.67h23l-11.5 23z" fill="#00ff00"/><path d="M610.72 430.47H616.39L610.72 441.81z" fill="#fff"/><path d="M607.45 424.92h23l-11.5 23z" fill="#00ff00"/><path d="M620.25 427.72H625.92L620.25 439.06z" fill="#fff"/><path d="M616.88 422.19h23l-11.5 23z" fill="#00ff00"/><path d="M629.68 424.99H635.35L629.68 436.33z" fill="#fff"/><path d="M626.21 419.47h23l-11.5 23z" fill="#00ff00"/><path d="M639.01 422.27H644.68L639.01 433.61z" fill="#fff"/><path d="M635.45 416.77h23l-11.5 23z" fill="#00ff00"/><path d="M648.25 419.57H653.92L648.25 430.91z" fill="#fff"/><path d="M644.59 414.08h23l-11.5 23z" fill="#00ff00"/><path d="M657.39 416.88H663.06L657.39 428.22z" fill="#fff"/><path d="M653.63 411.4h23l-11.5 23z" fill="#00ff00"/><path d="M666.43 414.2H672.1L666.43 425.54z" fill="#fff"/><path d="M662.59 408.73h23l-11.5 23z" fill="#00ff00"/><path d="M675.39 411.53H681.06L675.39 422.87z" fill="#fff"/><path d="M671.45 406.07h23l-11.5 23z" fill="#00ff00"/><path d="M684.25 408.87H689.91L684.25 420.21z" fill="#fff"/><path d="M680.21 403.42h23l-11.5 23z" fill="#00ff00"/><path d="M693.01 406.22H698.68L693.01 417.56z" fill="#fff"/><path d="M688.89 400.78h23l-11.5 23z" fill="#00ff00"/><path d="M701.69 403.58H707.36L701.69 414.92z" fill="#fff"/><path d="M697.47 398.15h23l-11.5 23z" fill="#00ff00"/><path d="M710.27 400.95H715.94L710.27 412.29z" fill="#fff"/><path d="M705.97 395.53h23l-11.5 23z" fill="#00ff00"/><path d="M718.77 398.33H724.44L718.77 409.67z" fill="#fff"/><path d="M714.38 392.92h23l-11.5 23z" fill="#00ff00"/><path d="M727.18 395.72H732.85L727.18 407.06z" fill="#fff"/><path d="M722.7 390.31h23l-11.5 23z" fill="#00ff00"/><path d="M735.5 393.11H741.17L735.5 404.45z" fill="#fff"/><path d="M730.93 387.71h23l-11.5 23z" fill="#00ff00"/><path d="M743.73 390.51H749.4L743.73 401.85z" fill="#fff"/><path d="M739.08 385.12h23l-11.5 23z" fill="#00ff00"/><path d="M751.88 387.92H757.55L751.88 399.26z" fill="#fff"/><path d="M747.15 382.54h23l-11.5 23z" fill="#00ff00"/><path d="M759.95 385.34H765.62L759.95 396.68z" fill="#fff"/><path d="M755.13 379.96h23l-11.5 23z" fill="#00ff00"/><path d="M767.93 382.76H773.6L767.93 394.1z" fill="#fff"/><path d="M763.03 377.39h23l-11.5 23z" fill="#00ff00"/><path d="M775.83 380.19H781.5L775.83 391.53z" fill="#fff"/><path d="M770.84 374.82h23l-11.5 23z" fill="#00ff00"/><path d="M783.64 377.62H789.31L783.64 388.96z" fill="#fff"/><path d="M778.58 372.26h23l-11.5 23z" fill="#00ff00"/><path d="M791.38 375.06H797.05L791.38 386.4z" fill="#fff"/><path d="M786.23 369.71h23l-11.5 23z" fill="#00ff00"/><path d="M799.03 372.51H804.7L799.03 383.85z" fill="#fff"/><path d="M793.81 367.16h23l-11.5 23z" fill="#00ff00"/><path d="M806.61 369.96H812.28L806.61 381.3z" fill="#fff"/><path d="M801.3 364.61h23l-11.5 23z" fill="#00ff00"/><path d="M814.1 367.41H819.77L814.1 378.75z" fill="#fff"/><path d="M808.71 362.08h23l-11.5 23z" fill="#00ff00"/><path d="M821.51 364.88H827.18L821.51 376.22z" fill="#fff"/><path d="M816 359.56h23l-11.5 23z" fill="#00ff00"/><path d="M828.8 362.36H834.47L828.8 373.7z" fill="#fff"/><path d="M823.18 357.07h23l-11.5 23z" fill="#00ff00"/><path d="M835.98 359.87H841.65L835.98 371.21z" fill="#fff"/><path d="M830.25 354.58h23l-11.5 23z" fill="#00ff00"/><path d="M843.05 357.38H848.72L843.05 368.72z" fill="#fff"/><path d="M837.22 352.12h23l-11.5 23z" fill="#00ff00"/><path d="M850.02 354.92H855.69L850.02 366.26z" fill="#fff"/><path d="M844.09 349.67h23l-11.5 23z" fill="#00ff00"/><path d="M856.89 352.47H862.55L856.89 363.81z" fill="#fff"/><path d="M850.85 347.24h23l-11.5 23z" fill="#00ff00"/><path d="M863.65 350.04H869.32L863.65 361.38z" fill="#fff"/><path d="M857.51 344.82h23l-11.5 23z" fill="#00ff00"/><path d="M870.31 347.62H875.98L870.31 358.96z" fill="#fff"/><path d="M864.07 342.42h23l-11.5 23z" fill="#00ff00"/><path d="M876.87 345.22H882.54L876.87 356.56z" fill="#fff"/><path d="M870.53 340.04h23l-11.5 23z" fill="#00ff00"/><path d="M883.33 342.84H889L883.33 354.18z" fill="#fff"/><path d="M876.89 337.67h23l-11.5 23z" fill="#00ff00"/><path d="M889.69 340.47H895.36L889.69 351.81z" fill="#fff"/><path d="M883.16 335.32h23l-11.5 23z" fill="#00ff00"/><path d="M895.96 338.12H901.63L895.96 349.46z" fill="#fff"/><path d="M889.34 332.99h23l-11.5 23z" fill="#00ff00"/><path d="M902.14 335.79H907.81L902.14 347.13z" fill="#fff"/><path d="M895.42 330.68h23l-11.5 23z" fill="#00ff00"/><path d="M908.22 333.48H913.89L908.22 344.82z" fill="#fff"/><path d="M901.42 328.38h23l-11.5 23z" fill="#00ff00"/><path d="M914.22 331.18H919.89L914.22 342.52z" fill="#fff"/><path d="M907.32 326.09h23l-11.5 23z" fill="#00ff00"/><path d="M920.12 328.89H925.79L920.12 340.23z" fill="#fff"/><path d="M913.13 323.83h23l-11.5 23z" fill="#00ff00"/><path d="M925.93 326.63H931.6L925.93 337.97z" fill="#fff"/><path d="M918.86 321.58h23l-11.5 23z" fill="#00ff00"/><path d="M931.66 324.38H937.33L931.66 335.72z" fill="#fff"/><path d="M924.5 319.35h23l-11.5 23z" fill="#00ff00"/><path d="M937.3 322.15H942.97L937.3 333.49z" fill="#fff"/><path d="M930.06 317.13h23l-11.5 23z" fill="#00ff00"/><path d="M942.86 319.93H948.53L942.86 331.27z" fill="#fff"/><path d="M935.53 314.93h23l-11.5 23z" fill="#00ff00"/><path d="M948.33 317.73H954L948.33 329.07z" fill="#fff"/><path d="M940.93 312.75h23l-11.5 23z" fill="#00ff00"/><path d="M953.73 315.55H959.4L953.73 326.89z" fill="#fff"/><path d="M946.24 310.59h23l-11.5 23z" fill="#00ff00"/><path d="M959.04 313.39H964.71L959.04 324.73z" fill="#fff"/><path d="M951.47 308.44h23l-11.5 23z" fill="#00ff00"/><path d="M964.27 311.24H969.94L964.27 322.58z" fill="#fff"/><path d="M956.62 306.31h23l-11.5 23z" fill="#00ff00"/><path d="M969.42 309.11H975.09L969.42 320.45z" fill="#fff"/><path d="M961.7 304.2h23l-11.5 23z" fill="#00ff00"/><path d="M974.5 307H980.17L974.5 318.34z" fill="#fff"/><path d="M966.7 302.1h23l-11.5 23z" fill="#00ff00"/><path d="M979.5 304.9H985.17L979.5 316.24z" fill="#fff"/></g>
<g id="bi15"><path d="M231.3 588.7h23l-11.5 23z" fill="#ff00ff"/><path d="M244.1 591.5H249.77L244.1 602.84z" fill="#fff"/><path d="M245.77 585.12h23l-11.5 23z" fill="#ff00ff"/><path d="M258.57 587.92H264.24L258.57 599.26z" fill="#fff"/><path d="M260.09 581.62h23l-11.5 23z" fill="#ff00ff"/><path d="M272.89 584.42H278.56L272.89 595.76z" fill="#fff"/><path d="M274.27 578.19h23l-11.5 23z" fill="#ff00ff"/><path d="M287.07 580.99H292.74L287.07 592.33z" fill="#fff"/><path d="M288.3 574.82h23l-11.5 23z" fill="#ff00ff"/><path d="M301.1 577.62H306.77L301.1 588.96z" fill="#fff"/><path d="M302.19 571.52h23l-11.5 23z" fill="#ff00ff"/><path d="M314.99 574.32H320.66L314.99 585.66z" fill="#fff"/><path d="M315.94 568.28h23l-11.5 23z" fill="#ff00ff"/><path d="M328.74 571.08H334.41L328.74 582.42z" fill="#fff"/><path d="M329.55 565.09h23l-11.5 23z" fill="#ff00ff"/><path d="M342.35 567.89H348.02L342.35 579.23z" fill="#fff"/><path d="M343.02 561.96h23l-11.5 23z" fill="#ff00ff"/><path d="M355.82 564.76H361.49L355.82 576.1z" fill="#fff"/><path d="M356.35 558.87h23l-11.5 23z" fill="#ff00ff"/><path d="M369.15 561.67H374.82L369.15 573.01z" fill="#fff"/><path d="M369.54 555.83h23l-11.5 23z" fill="#ff00ff"/><path d="M382.34 558.63H388.01L382.34 569.97z" fill="#fff"/><path d="M382.61 552.84h23l-11.5 23z" fill="#ff00ff"/><path d="M395.41 555.64H401.07L395.41 566.97z" fill="#fff"/><path d="M395.53 549.88h23l-11.5 23z" fill="#ff00ff"/><path d="M408.33 552.68H414L408.33 564.02z" fill="#fff"/><path d="M408.33 546.96h23l-11.5 23z" fill="#ff00ff"/><path d="M421.13 549.76H426.8L421.13 561.1z" fill="#fff"/><path d="M421 544.08h23l-11.5 23z" fill="#ff00ff"/><path d="M433.8 546.88H439.47L433.8 558.22z" fill="#fff"/><path d="M433.53 541.23h23l-11.5 23z" fill="#ff00ff"/><path d="M446.33 544.03H452L446.33 555.37z" fill="#fff"/><path d="M445.94 538.42h23l-11.5 23z" fill="#ff00ff"/><path d="M458.74 541.22H464.41L458.74 552.56z" fill="#fff"/><path d="M458.23 535.63h23l-11.5 23z" fill="#ff00ff"/><path d="M471.03 538.43H476.7L471.03 549.77z" fill="#fff"/><path d="M470.39 532.87h23l-11.5 23z" fill="#ff00ff"/><path d="M483.19 535.67H488.86L483.19 547.01z" fill="#fff"/><path d="M482.42 530.13h23l-11.5 23z" fill="#ff00ff"/><path d="M495.22 532.93H500.89L495.22 544.27z" fill="#fff"/><path d="M494.33 527.42h23l-11.5 23z" fill="#ff00ff"/><path d="M507.13 530.22H512.8L507.13 541.56z" fill="#fff"/><path d="M506.12 524.73h23l-11.5 23z" fill="#ff00ff"/><path d="M518.92 527.53H524.59L518.92 538.87z" fill="#fff"/><path d="M517.79 522.06h23l-11.5 23z" fill="#ff00ff"/><path d="M530.59 524.86H536.26L530.59 536.2z" fill="#fff"/><path d="M529.34 519.41h23l-11.5 23z" fill="#ff00ff"/><path d="M542.14 522.21H547.81L542.14 533.54z" fill="#fff"/><path d="M540.78 516.77h23l-11.5 23z" fill="#ff00ff"/><path d="M553.58 519.57H559.25L553.58 530.91z" fill="#fff"/><path d="M552.09 514.15h23l-11.5 23z" fill="#ff00ff"/><path d="M564.89 516.95H570.56L564.89 528.29z" fill="#fff"/><path d="M563.3 511.55h23l-11.5 23z" fill="#ff00ff"/><path d="M576.1 514.35H581.77L576.1 525.68z" fill="#fff"/><path d="M574.38 508.95h23l-11.5 23z" fill="#ff00ff"/><path d="M587.18 511.75H592.85L587.18 523.09z" fill="#fff"/><path d="M585.36 506.37h23l-11.5 23z" fill="#ff00ff"/><path d="M598.16 509.17H603.83L598.16 520.51z" fill="#fff"/><path d="M596.22 503.81h23l-11.5 23z" fill="#ff00ff"/><path d="M609.02 506.61H614.69L609.02 517.95z" fill="#fff"/><path d="M606.97 501.25h23l-11.5 23z" fill="#ff00ff"/><path d="M619.77 504.05H625.44L619.77 515.39z" fill="#fff"/><path d="M617.61 498.7h23l-11.5 23z" fill="#ff00ff"/><path d="M630.41 501.5H636.08L630.41 512.84z" fill="#fff"/><path d="M628.1 496.17h23l-11.5 23z" fill="#ff00ff"/><path d="M640.9 498.97H646.57L640.9 510.31z" fill="#fff"/><path d="M638.46 493.65h23l-11.5 23z" fill="#ff00ff"/><path d="M651.26 496.45H656.93L651.26 507.79z" fill="#fff"/><path d="M648.69 491.15h23l-11.5 23z" fill="#ff00ff"/><path d="M661.49 493.95H667.16L661.49 505.29z" fill="#fff"/><path d="M658.78 488.66h23l-11.5 23z" fill="#ff00ff"/><path d="M671.58 491.46H677.25L671.58 502.8z" fill="#fff"/><path d="M668.75 486.19h23l-11.5 23z" fill="#ff00ff"/><path d="M681.55 488.99H687.22L681.55 500.33z" fill="#fff"/><path d="M678.58 483.72h23l-11.5 23z" fill="#ff00ff"/><path d="M691.38 486.52H697.05L691.38 497.86z" fill="#fff"/><path d="M688.29 481.27h23l-11.5 23z" fill="#ff00ff"/><path d="M701.09 484.07H706.76L701.09 495.41z" fill="#fff"/><path d="M697.88 478.83h23l-11.5 23z" fill="#ff00ff"/><path d="M710.68 481.63H716.35L710.68 492.97z" fill="#fff"/><path d="M707.34 476.4h23l-11.5 23z" fill="#ff00ff"/><path d="M720.14 479.2H725.81L720.14 490.54z" fill="#fff"/><path d="M716.67 473.98h23l-11.5 23z" fill="#ff00ff"/><path d="M729.47 476.78H735.14L729.47 488.11z" fill="#fff"/><path d="M725.89 471.56h23l-11.5 23z" fill="#ff00ff"/><path d="M738.69 474.36H744.36L738.69 485.7z" fill="#fff"/><path d="M734.99 469.16h23l-11.5 23z" fill="#ff00ff"/><path d="M747.79 471.96H753.46L747.79 483.3z" fill="#fff"/><path d="M743.97 466.77h23l-11.5 23z" fill="#ff00ff"/><path d="M756.77 469.57H762.44L756.77 480.91z" fill="#fff"/><path d="M752.84 464.39h23l-11.5 23z" fill="#ff00ff"/><path d="M765.64 467.19H771.31L765.64 478.53z" fill="#fff"/><path d="M761.59 462.01h23l-11.5 23z" fill="#ff00ff"/><path d="M774.39 464.81H780.06L774.39 476.15z" fill="#fff"/><path d="M770.22 459.65h23l-11.5 23z" fill="#ff00ff"/><path d="M783.02 462.45H788.69L783.02 473.79z" fill="#fff"/><path d="M778.75 457.29h23l-11.5 23z" fill="#ff00ff"/><path d="M791.55 460.09H797.22L791.55 471.43z" fill="#fff"/><path d="M787.17 454.95h23l-11.5 23z" fill="#ff00ff"/><path d="M799.97 457.75H805.64L799.97 469.09z" fill="#fff"/><path d="M795.48 452.61h23l-11.5 23z" fill="#ff00ff"/><path d="M808.28 455.41H813.94L808.28 466.75z" fill="#fff"/><path d="M803.7 450.27h23l-11.5 23z" fill="#ff00ff"/><path d="M816.5 453.07H822.17L816.5 464.41z" fill="#fff"/><path d="M811.86 447.93h23l-11.5 23z" fill="#ff00ff"/><path d="M824.66 450.73H830.33L824.66 462.07z" fill="#fff"/><path d="M819.95 445.58h23l-11.5 23z" fill="#ff00ff"/><path d="M832.75 448.38H838.42L832.75 459.72z" fill="#fff"/><path d="M827.97 443.24h23l-11.5 23z" fill="#ff00ff"/><path d="M840.77 446.04H846.44L840.77 457.38z" fill="#fff"/><path d="M835.92 440.89h23l-11.5 23z" fill="#ff00ff"/><path d="M848.72 443.69H854.39L848.72 455.03z" fill="#fff"/><path d="M843.81 438.54h23l-11.5 23z" fill="#ff00ff"/><path d="M856.61 441.34H862.28L856.61 452.68z" fill="#fff"/><path d="M851.62 436.19h23l-11.5 23z" fill="#ff00ff"/><path d="M864.42 438.99H870.09L864.42 450.33z" fill="#fff"/><path d="M859.37 433.83h23l-11.5 23z" fill="#ff00ff"/><path d="M872.17 436.63H877.84L872.17 447.97z" fill="#fff"/><path d="M867.06 431.48h23l-11.5 23z" fill="#ff00ff"/><path d="M879.86 434.28H885.53L879.86 445.62z" fill="#fff"/><path d="M874.67 429.12h23l-11.5 23z" fill="#ff00ff"/><path d="M887.47 431.92H893.14L887.47 443.26z" fill="#fff"/><path d="M882.23 426.75h23l-11.5 23z" fill="#ff00ff"/><path d="M895.03 429.55H900.7L895.03 440.89z" fill="#fff"/><path d="M889.72 424.39h23l-11.5 23z" fill="#ff00ff"/><path d="M902.52 427.19H908.19L902.52 438.53z" fill="#fff"/><path d="M897.14 422.02h23l-11.5 23z" fill="#ff00ff"/><path d="M909.94 424.82H915.61L909.94 436.16z" fill="#fff"/><path d="M904.5 419.65h23l-11.5 23z" fill="#ff00ff"/><path d="M917.3 422.45H922.97L917.3 433.79z" fill="#fff"/><path d="M911.8 417.28h23l-11.5 23z" fill="#ff00ff"/><path d="M924.6 420.08H930.27L924.6 431.42z" fill="#fff"/><path d="M919.04 414.91h23l-11.5 23z" fill="#ff00ff"/><path d="M931.84 417.71H937.51L931.84 429.04z" fill="#fff"/><path d="M926.21 412.53h23l-11.5 23z" fill="#ff00ff"/><path d="M939.01 415.33H944.68L939.01 426.67z" fill="#fff"/><path d="M933.32 410.15h23l-11.5 23z" fill="#ff00ff"/><path d="M946.12 412.95H951.79L946.12 424.29z" fill="#fff"/><path d="M940.38 407.77h23l-11.5 23z" fill="#ff00ff"/><path d="M953.18 410.57H958.85L953.18 421.91z" fill="#fff"/><path d="M947.37 405.39h23l-11.5 23z" fill="#ff00ff"/><path d="M960.17 408.19H965.84L960.17 419.52z" fill="#fff"/><path d="M954.3 403h23l-11.5 23z" fill="#ff00ff"/><path d="M967.1 405.8H972.77L967.1 417.14z" fill="#fff"/></g>
<text transform="translate(424.3,760.1) scale(0.911,1)" font-size="51" fill="#1c1c1c" font-family="Liberation Sans, Arial, sans-serif">Log[j(mA cm<tspan font-size="28.5" dy="-35.5" dx="2.8">-2</tspan><tspan dy="35.5" dx="2">)]</tspan></text>
<text transform="translate(77.1,478.4) rotate(-90) scale(1.18,1)" font-size="48" fill="#1c1c1c" font-family="Liberation Sans, Arial, sans-serif">η</text>
<text transform="translate(77.1,425.2) rotate(-90)" font-size="40.5" letter-spacing="2.45" fill="#1c1c1c" font-family="Liberation Sans, Arial, sans-serif">(V vs.RHE)</text>
<text transform="translate(6.6,57) scale(0.82,1)" font-size="76" fill="#111" font-family="Liberation Sans, Arial, sans-serif">a</text>
<text transform="translate(1061.5,55.5) scale(0.92,1)" font-size="71" fill="#111" font-family="Liberation Sans, Arial, sans-serif">b</text>
<g id="right">
<rect x="1197" y="32.7" width="835.7" height="599.3" fill="#fff" stroke="#000" stroke-width="4.7"/>
<path d="M1201.4 634v11M1280.01 634v11M1358.62 634v11M1437.23 634v11M1515.84 634v11M1594.45 634v11M1673.06 634v11M1751.67 634v11M1830.28 634v11M1908.89 634v11M1987.5 634v11M1195 601.2h-10M1195 490.7h-10M1195 380.2h-10M1195 269.7h-10M1195 159.2h-10M1195 48.7h-10M1195 545.95h-5M1195 435.45h-5M1195 324.95h-5M1195 214.45h-5M1195 103.95h-5" stroke="#000" stroke-width="4.7" fill="none"/>
<g font-family="Liberation Sans, Arial, sans-serif">
<text transform="translate(1176.04,685.8) scale(1,1)" font-size="45" letter-spacing="0.6" fill="#111">40</text>
<text transform="translate(1254.26,685.8) scale(1,1)" font-size="45" letter-spacing="0.6" fill="#111">50</text>
<text transform="translate(1332.63,685.8) scale(1,1)" font-size="45" letter-spacing="0.6" fill="#111">60</text>
<text transform="translate(1411.23,685.8) scale(1,1)" font-size="45" letter-spacing="0.6" fill="#111">70</text>
<text transform="translate(1490.01,685.8) scale(1,1)" font-size="45" letter-spacing="0.6" fill="#111">80</text>
<text transform="translate(1568.55,685.8) scale(1,1)" font-size="45" letter-spacing="0.6" fill="#111">90</text>
<text transform="translate(1636.28,685.8) scale(1,1)" font-size="45" letter-spacing="-2" fill="#111">100</text>
<text transform="translate(1714.89,685.8) scale(1,1)" font-size="45" letter-spacing="-2" fill="#111">110</text>
<text transform="translate(1793.5,685.8) scale(1,1)" font-size="45" letter-spacing="-2" fill="#111">120</text>
<text transform="translate(1872.11,685.8) scale(1,1)" font-size="45" letter-spacing="-2" fill="#111">130</text>
<text transform="translate(1950.72,685.8) scale(1,1)" font-size="45" letter-spacing="-2" fill="#111">140</text>
<text transform="translate(1152.53,612.4) scale(1,1)" font-size="45" letter-spacing="-1" fill="#111">0</text>
<text transform="translate(1128.5,501.9) scale(1,1)" font-size="45" letter-spacing="-1" fill="#111">10</text>
<text transform="translate(1126.9,391.4) scale(1,1)" font-size="45" letter-spacing="0.6" fill="#111">20</text>
<text transform="translate(1126.9,280.9) scale(1,1)" font-size="45" letter-spacing="0.6" fill="#111">30</text>
<text transform="translate(1126.9,170.4) scale(1,1)" font-size="45" letter-spacing="0.6" fill="#111">40</text>
<text transform="translate(1126.9,59.9) scale(1,1)" font-size="45" letter-spacing="0.6" fill="#111">50</text>
</g>
<polyline points="1248,603 1248.45,600.97 1248.99,598.54 1249.64,595.63 1250.61,592.18 1251.97,588.1 1253.6,583.2 1255.8,577.41 1258.52,570.49 1261.65,562.13 1265.29,552.07 1269.16,539.82 1273.24,524.96 1277.7,507 1291,480.4 1308.8,444.3 1336,400.3 1373.2,345.2 1428.3,294.5 1500.9,249.2 1586.2,226.2 1675.4,235.4 1753.8,271.4 1819.4,320.9 1862.5,373.8 1893.8,426 1918.5,463.1 1935.4,498.5 1944.6,520 1952.3,538.5 1958.5,553.8 1966.2,563.1 1975.4,567.7 1983.1,563 1992.9,558.5" fill="none" stroke="#0000ff" stroke-width="3.2" stroke-linejoin="round"/>
<circle cx="1248" cy="603" r="7.1" fill="#0000ff"/><circle cx="1248.45" cy="600.97" r="7.1" fill="#0000ff"/><circle cx="1248.99" cy="598.54" r="7.1" fill="#0000ff"/><circle cx="1249.64" cy="595.63" r="7.1" fill="#0000ff"/><circle cx="1250.61" cy="592.18" r="7.1" fill="#0000ff"/><circle cx="1251.97" cy="588.1" r="7.1" fill="#0000ff"/><circle cx="1253.6" cy="583.2" r="7.1" fill="#0000ff"/><circle cx="1255.8" cy="577.41" r="7.1" fill="#0000ff"/><circle cx="1258.52" cy="570.49" r="7.1" fill="#0000ff"/><circle cx="1261.65" cy="562.13" r="7.1" fill="#0000ff"/><circle cx="1265.29" cy="552.07" r="7.1" fill="#0000ff"/><circle cx="1269.16" cy="539.82" r="7.1" fill="#0000ff"/><circle cx="1273.24" cy="524.96" r="7.1" fill="#0000ff"/><circle cx="1277.7" cy="507" r="7.1" fill="#0000ff"/><circle cx="1291" cy="480.4" r="7.1" fill="#0000ff"/><circle cx="1308.8" cy="444.3" r="7.1" fill="#0000ff"/><circle cx="1336" cy="400.3" r="7.1" fill="#0000ff"/><circle cx="1373.2" cy="345.2" r="7.1" fill="#0000ff"/><circle cx="1428.3" cy="294.5" r="7.1" fill="#0000ff"/><circle cx="1500.9" cy="249.2" r="7.1" fill="#0000ff"/><circle cx="1586.2" cy="226.2" r="7.1" fill="#0000ff"/><circle cx="1675.4" cy="235.4" r="7.1" fill="#0000ff"/><circle cx="1753.8" cy="271.4" r="7.1" fill="#0000ff"/><circle cx="1819.4" cy="320.9" r="7.1" fill="#0000ff"/><circle cx="1862.5" cy="373.8" r="7.1" fill="#0000ff"/><circle cx="1893.8" cy="426" r="7.1" fill="#0000ff"/><circle cx="1918.5" cy="463.1" r="7.1" fill="#0000ff"/><circle cx="1935.4" cy="498.5" r="7.1" fill="#0000ff"/><circle cx="1944.6" cy="520" r="7.1" fill="#0000ff"/><circle cx="1952.3" cy="538.5" r="7.1" fill="#0000ff"/><circle cx="1958.5" cy="553.8" r="7.1" fill="#0000ff"/><circle cx="1966.2" cy="563.1" r="7.1" fill="#0000ff"/><circle cx="1975.4" cy="567.7" r="7.1" fill="#0000ff"/><circle cx="1983.1" cy="563" r="7.1" fill="#0000ff"/><circle cx="1992.9" cy="558.5" r="7.1" fill="#0000ff"/>
<polyline points="1236.5,602 1237.25,600 1238.12,597.65 1239.15,594.91 1240.35,591.7 1241.75,587.95 1243.43,583.57 1246.14,578.8 1249.31,573.22 1253.06,566.71 1257.71,559.25 1263.15,550.53 1270.03,540.67 1276.71,528.5 1280.99,512.6 1286,494 1308,465 1334.5,429 1370.8,392.3 1415.4,364.6 1474.9,342.6 1538.5,343 1597.5,361.5 1644.6,404.5 1676.9,443.1 1701.5,478.5 1714.8,513.8 1720,535.4 1723.7,550.8 1728.6,567.7 1732.3,578.5 1736.9,584.6 1740,588.3" fill="none" stroke="#008080" stroke-width="3.2" stroke-linejoin="round"/>
<path d="M1236.5 593l8.75 15h-17.5z" fill="#008080"/><path d="M1237.25 591l8.75 15h-17.5z" fill="#008080"/><path d="M1238.12 588.65l8.75 15h-17.5z" fill="#008080"/><path d="M1239.15 585.91l8.75 15h-17.5z" fill="#008080"/><path d="M1240.35 582.7l8.75 15h-17.5z" fill="#008080"/><path d="M1241.75 578.95l8.75 15h-17.5z" fill="#008080"/><path d="M1243.43 574.57l8.75 15h-17.5z" fill="#008080"/><path d="M1246.14 569.8l8.75 15h-17.5z" fill="#008080"/><path d="M1249.31 564.22l8.75 15h-17.5z" fill="#008080"/><path d="M1253.06 557.71l8.75 15h-17.5z" fill="#008080"/><path d="M1257.71 550.25l8.75 15h-17.5z" fill="#008080"/><path d="M1263.15 541.53l8.75 15h-17.5z" fill="#008080"/><path d="M1270.03 531.67l8.75 15h-17.5z" fill="#008080"/><path d="M1276.71 519.5l8.75 15h-17.5z" fill="#008080"/><path d="M1280.99 503.6l8.75 15h-17.5z" fill="#008080"/><path d="M1286 485l8.75 15h-17.5z" fill="#008080"/><path d="M1308 456l8.75 15h-17.5z" fill="#008080"/><path d="M1334.5 420l8.75 15h-17.5z" fill="#008080"/><path d="M1370.8 383.3l8.75 15h-17.5z" fill="#008080"/><path d="M1415.4 355.6l8.75 15h-17.5z" fill="#008080"/><path d="M1474.9 333.6l8.75 15h-17.5z" fill="#008080"/><path d="M1538.5 334l8.75 15h-17.5z" fill="#008080"/><path d="M1597.5 352.5l8.75 15h-17.5z" fill="#008080"/><path d="M1644.6 395.5l8.75 15h-17.5z" fill="#008080"/><path d="M1676.9 434.1l8.75 15h-17.5z" fill="#008080"/><path d="M1701.5 469.5l8.75 15h-17.5z" fill="#008080"/><path d="M1714.8 504.8l8.75 15h-17.5z" fill="#008080"/><path d="M1720 526.4l8.75 15h-17.5z" fill="#008080"/><path d="M1723.7 541.8l8.75 15h-17.5z" fill="#008080"/><path d="M1728.6 558.7l8.75 15h-17.5z" fill="#008080"/><path d="M1732.3 569.5l8.75 15h-17.5z" fill="#008080"/><path d="M1736.9 575.6l8.75 15h-17.5z" fill="#008080"/><path d="M1740 579.3l8.75 15h-17.5z" fill="#008080"/>
<polyline points="1254.6,598 1254.23,595.25 1253.81,592.09 1254.39,588.48 1255.08,584.32 1255.88,579.54 1256.79,574.04 1258.42,567.87 1260.89,560.92 1264.05,553.08 1268.72,544.52 1274.08,534.68 1281.38,524.06 1290,512 1306,487 1325,464.2 1352.3,437 1393.8,415.4 1439.1,407.1 1485.5,411.7 1523.1,435.4 1560,456.9 1574.8,487.7 1592.3,512.3 1604.6,532.9 1610.8,546.2 1615.4,558" fill="none" stroke="#ff00ff" stroke-width="3.2" stroke-linejoin="round"/>
<path d="M1254.6 607l8.75 -15h-17.5z" fill="#ff00ff"/><path d="M1254.23 604.25l8.75 -15h-17.5z" fill="#ff00ff"/><path d="M1253.81 601.09l8.75 -15h-17.5z" fill="#ff00ff"/><path d="M1254.39 597.48l8.75 -15h-17.5z" fill="#ff00ff"/><path d="M1255.08 593.32l8.75 -15h-17.5z" fill="#ff00ff"/><path d="M1255.88 588.54l8.75 -15h-17.5z" fill="#ff00ff"/><path d="M1256.79 583.04l8.75 -15h-17.5z" fill="#ff00ff"/><path d="M1258.42 576.87l8.75 -15h-17.5z" fill="#ff00ff"/><path d="M1260.89 569.92l8.75 -15h-17.5z" fill="#ff00ff"/><path d="M1264.05 562.08l8.75 -15h-17.5z" fill="#ff00ff"/><path d="M1268.72 553.52l8.75 -15h-17.5z" fill="#ff00ff"/><path d="M1274.08 543.68l8.75 -15h-17.5z" fill="#ff00ff"/><path d="M1281.38 533.06l8.75 -15h-17.5z" fill="#ff00ff"/><path d="M1290 521l8.75 -15h-17.5z" fill="#ff00ff"/><path d="M1306 496l8.75 -15h-17.5z" fill="#ff00ff"/><path d="M1325 473.2l8.75 -15h-17.5z" fill="#ff00ff"/><path d="M1352.3 446l8.75 -15h-17.5z" fill="#ff00ff"/><path d="M1393.8 424.4l8.75 -15h-17.5z" fill="#ff00ff"/><path d="M1439.1 416.1l8.75 -15h-17.5z" fill="#ff00ff"/><path d="M1485.5 420.7l8.75 -15h-17.5z" fill="#ff00ff"/><path d="M1523.1 444.4l8.75 -15h-17.5z" fill="#ff00ff"/><path d="M1560 465.9l8.75 -15h-17.5z" fill="#ff00ff"/><path d="M1574.8 496.7l8.75 -15h-17.5z" fill="#ff00ff"/><path d="M1592.3 521.3l8.75 -15h-17.5z" fill="#ff00ff"/><path d="M1604.6 541.9l8.75 -15h-17.5z" fill="#ff00ff"/><path d="M1610.8 555.2l8.75 -15h-17.5z" fill="#ff00ff"/><path d="M1615.4 567l8.75 -15h-17.5z" fill="#ff00ff"/>
<polyline points="1237,599 1237.64,597 1238.37,594.7 1239.21,592.06 1240.18,589.02 1241.3,585.52 1242.58,581.5 1244.84,577.21 1247.59,572.36 1250.76,566.78 1254.58,560.46 1259.07,553.26 1264.3,545.01 1270.82,535.87 1276.72,524.56 1281.2,510.4 1293.8,489.6 1311.2,466.5 1333.8,435.4 1367.7,401.5 1414.5,373.2 1472.3,352.9 1532.3,355.4 1587.1,377.8 1629.2,414.5 1660.9,452.3 1678.5,490.8 1692.3,517.8 1700,542.2 1706.2,552.9 1713.8,574.8" fill="none" stroke="#00ff00" stroke-width="3.2" stroke-linejoin="round"/>
<path d="M1237 589l8.75 10l-8.75 10l-8.75 -10z" fill="#00ff00"/><path d="M1237.64 587l8.75 10l-8.75 10l-8.75 -10z" fill="#00ff00"/><path d="M1238.37 584.7l8.75 10l-8.75 10l-8.75 -10z" fill="#00ff00"/><path d="M1239.21 582.06l8.75 10l-8.75 10l-8.75 -10z" fill="#00ff00"/><path d="M1240.18 579.02l8.75 10l-8.75 10l-8.75 -10z" fill="#00ff00"/><path d="M1241.3 575.52l8.75 10l-8.75 10l-8.75 -10z" fill="#00ff00"/><path d="M1242.58 571.5l8.75 10l-8.75 10l-8.75 -10z" fill="#00ff00"/><path d="M1244.84 567.21l8.75 10l-8.75 10l-8.75 -10z" fill="#00ff00"/><path d="M1247.59 562.36l8.75 10l-8.75 10l-8.75 -10z" fill="#00ff00"/><path d="M1250.76 556.78l8.75 10l-8.75 10l-8.75 -10z" fill="#00ff00"/><path d="M1254.58 550.46l8.75 10l-8.75 10l-8.75 -10z" fill="#00ff00"/><path d="M1259.07 543.26l8.75 10l-8.75 10l-8.75 -10z" fill="#00ff00"/><path d="M1264.3 535.01l8.75 10l-8.75 10l-8.75 -10z" fill="#00ff00"/><path d="M1270.82 525.87l8.75 10l-8.75 10l-8.75 -10z" fill="#00ff00"/><path d="M1276.72 514.56l8.75 10l-8.75 10l-8.75 -10z" fill="#00ff00"/><path d="M1281.2 500.4l8.75 10l-8.75 10l-8.75 -10z" fill="#00ff00"/><path d="M1293.8 479.6l8.75 10l-8.75 10l-8.75 -10z" fill="#00ff00"/><path d="M1311.2 456.5l8.75 10l-8.75 10l-8.75 -10z" fill="#00ff00"/><path d="M1333.8 425.4l8.75 10l-8.75 10l-8.75 -10z" fill="#00ff00"/><path d="M1367.7 391.5l8.75 10l-8.75 10l-8.75 -10z" fill="#00ff00"/><path d="M1414.5 363.2l8.75 10l-8.75 10l-8.75 -10z" fill="#00ff00"/><path d="M1472.3 342.9l8.75 10l-8.75 10l-8.75 -10z" fill="#00ff00"/><path d="M1532.3 345.4l8.75 10l-8.75 10l-8.75 -10z" fill="#00ff00"/><path d="M1587.1 367.8l8.75 10l-8.75 10l-8.75 -10z" fill="#00ff00"/><path d="M1629.2 404.5l8.75 10l-8.75 10l-8.75 -10z" fill="#00ff00"/><path d="M1660.9 442.3l8.75 10l-8.75 10l-8.75 -10z" fill="#00ff00"/><path d="M1678.5 480.8l8.75 10l-8.75 10l-8.75 -10z" fill="#00ff00"/><path d="M1692.3 507.8l8.75 10l-8.75 10l-8.75 -10z" fill="#00ff00"/><path d="M1700 532.2l8.75 10l-8.75 10l-8.75 -10z" fill="#00ff00"/><path d="M1706.2 542.9l8.75 10l-8.75 10l-8.75 -10z" fill="#00ff00"/><path d="M1713.8 564.8l8.75 10l-8.75 10l-8.75 -10z" fill="#00ff00"/>
<polyline points="1247,599 1247.56,596.93 1248.19,594.62 1248.9,592.03 1249.69,589.12 1250.76,585.93 1252.07,582.39 1253.53,578.42 1255.17,573.98 1257,569 1261.5,555.4 1269.6,540.4 1278.8,525.4 1293.8,507 1307.7,481.5 1327.3,458.5 1352.3,429.2 1381.5,393.2 1423.1,357.5 1473.2,319.1 1533.8,289.2 1606.2,270.8 1684.6,271.4 1754.5,296.9 1817.8,335.4 1860,383.1 1896.9,430.5 1913.8,468.5 1930.8,498.5 1940,524.6 1946.2,535.4 1952.3,546.2 1960,555.4 1969.2,563.1 1976.9,567.7 1983.1,569.2" fill="none" stroke="#ff8000" stroke-width="3.2" stroke-linejoin="round"/>
<path d="M1238.9 599l13.5 -9.1v18.2z" fill="#ff8000"/><path d="M1239.46 596.93l13.5 -9.1v18.2z" fill="#ff8000"/><path d="M1240.09 594.62l13.5 -9.1v18.2z" fill="#ff8000"/><path d="M1240.8 592.03l13.5 -9.1v18.2z" fill="#ff8000"/><path d="M1241.59 589.12l13.5 -9.1v18.2z" fill="#ff8000"/><path d="M1242.66 585.93l13.5 -9.1v18.2z" fill="#ff8000"/><path d="M1243.97 582.39l13.5 -9.1v18.2z" fill="#ff8000"/><path d="M1245.43 578.42l13.5 -9.1v18.2z" fill="#ff8000"/><path d="M1247.07 573.98l13.5 -9.1v18.2z" fill="#ff8000"/><path d="M1248.9 569l13.5 -9.1v18.2z" fill="#ff8000"/><path d="M1253.4 555.4l13.5 -9.1v18.2z" fill="#ff8000"/><path d="M1261.5 540.4l13.5 -9.1v18.2z" fill="#ff8000"/><path d="M1270.7 525.4l13.5 -9.1v18.2z" fill="#ff8000"/><path d="M1285.7 507l13.5 -9.1v18.2z" fill="#ff8000"/><path d="M1299.6 481.5l13.5 -9.1v18.2z" fill="#ff8000"/><path d="M1319.2 458.5l13.5 -9.1v18.2z" fill="#ff8000"/><path d="M1344.2 429.2l13.5 -9.1v18.2z" fill="#ff8000"/><path d="M1373.4 393.2l13.5 -9.1v18.2z" fill="#ff8000"/><path d="M1415 357.5l13.5 -9.1v18.2z" fill="#ff8000"/><path d="M1465.1 319.1l13.5 -9.1v18.2z" fill="#ff8000"/><path d="M1525.7 289.2l13.5 -9.1v18.2z" fill="#ff8000"/><path d="M1598.1 270.8l13.5 -9.1v18.2z" fill="#ff8000"/><path d="M1676.5 271.4l13.5 -9.1v18.2z" fill="#ff8000"/><path d="M1746.4 296.9l13.5 -9.1v18.2z" fill="#ff8000"/><path d="M1809.7 335.4l13.5 -9.1v18.2z" fill="#ff8000"/><path d="M1851.9 383.1l13.5 -9.1v18.2z" fill="#ff8000"/><path d="M1888.8 430.5l13.5 -9.1v18.2z" fill="#ff8000"/><path d="M1905.7 468.5l13.5 -9.1v18.2z" fill="#ff8000"/><path d="M1922.7 498.5l13.5 -9.1v18.2z" fill="#ff8000"/><path d="M1931.9 524.6l13.5 -9.1v18.2z" fill="#ff8000"/><path d="M1938.1 535.4l13.5 -9.1v18.2z" fill="#ff8000"/><path d="M1944.2 546.2l13.5 -9.1v18.2z" fill="#ff8000"/><path d="M1951.9 555.4l13.5 -9.1v18.2z" fill="#ff8000"/><path d="M1961.1 563.1l13.5 -9.1v18.2z" fill="#ff8000"/><path d="M1968.8 567.7l13.5 -9.1v18.2z" fill="#ff8000"/><path d="M1975 569.2l13.5 -9.1v18.2z" fill="#ff8000"/>
<g font-family="Liberation Sans, Arial, sans-serif" font-size="28.2" letter-spacing="0.9" fill="#1c1c1c">
<path d="M1853.5 72.8H1923.5" stroke="#0000ff" stroke-width="4"/>
<circle cx="1888.4" cy="72.8" r="8.6" fill="#0000ff"/>
<text x="1927.5" y="81.3">BTO</text>
<path d="M1853.5 111.2H1923.5" stroke="#008080" stroke-width="4"/>
<path d="M1888.4 100.4l10.25 18h-20.5z" fill="#008080"/>
<text x="1927.5" y="121.1">IrO<tspan font-size="16" dy="13.3" dx="2">2</tspan></text>
<path d="M1853.5 161.1H1923.5" stroke="#ff8000" stroke-width="4"/>
<path d="M1879.1 161.1l15.5 -11v22z" fill="#ff8000"/>
<text x="1927.5" y="171.3">BI-10</text>
<path d="M1853.5 200.7H1923.5" stroke="#ff00ff" stroke-width="4"/>
<path d="M1888.4 211.5l10.4 -18h-20.8z" fill="#ff00ff"/>
<text x="1927.5" y="210.2">BI-15</text>
<path d="M1853.5 238.8H1923.5" stroke="#00ff00" stroke-width="4"/>
<path d="M1888.4 227.55l9.25 11.25l-9.25 11.25l-9.25 -11.25z" fill="#00ff00"/>
<text x="1927.5" y="248.6">BI-20</text>
</g>
<text x="1564.6" y="731.3" font-size="37.8" letter-spacing="-0.5" font-weight="bold" fill="#111" font-family="Liberation Sans, Arial, sans-serif">Z' (Ohm)</text>
<text transform="translate(1116.6,430.8) rotate(-90)" font-size="41" letter-spacing="-0.5" font-weight="bold" fill="#111" font-family="Liberation Sans, Arial, sans-serif">- Z'' (Ohm)</text>
</g>
</svg></body></html>
